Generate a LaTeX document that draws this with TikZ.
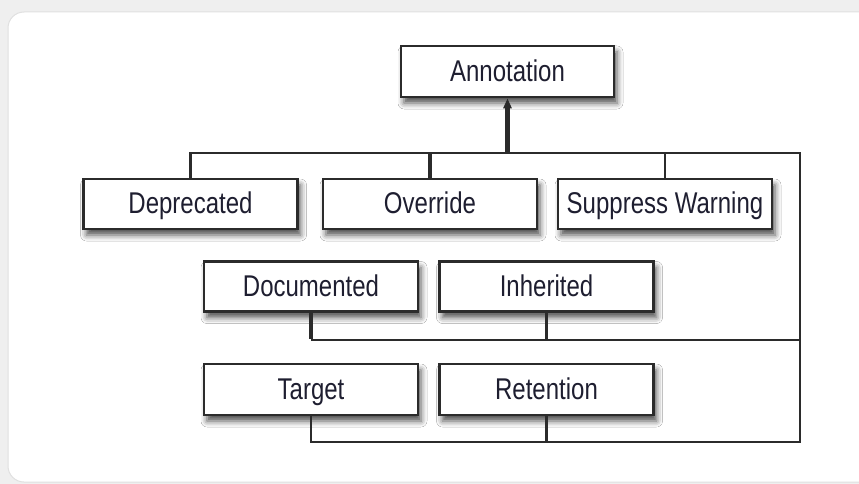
\documentclass[tikz,border=0pt]{standalone}
\usepackage{fontspec}
\setmainfont{Liberation Sans}[FakeStretch=0.8]
\usetikzlibrary{arrows.meta,shadows.blur}
\definecolor{framegray}{HTML}{EFEFEF}
\definecolor{linegray}{HTML}{2B2B2B}
\definecolor{inkblue}{HTML}{1E1E30}
\begin{document}
\begin{tikzpicture}[x=1pt,y=-1pt,
  classbox/.style={draw=linegray, line width=2.6pt, fill=white,
    minimum width=214pt, minimum height=50pt, inner sep=0pt,
    text=inkblue, font=\fontsize{30}{32}\selectfont,
    text height=21.5pt, text depth=2pt,
    blur shadow={shadow xshift=3pt, shadow yshift=-6pt,
      shadow blur radius=6pt, shadow opacity=70}},
  wire/.style={draw=linegray, line width=2.3pt},
  heavywire/.style={draw=linegray, line width=4.2pt},
]
\useasboundingbox (0,0) rectangle (859,484);
% page backdrop with rounded white panel
\fill[framegray] (0,0) rectangle (859,484);
\fill[white, draw=black!12, line width=1pt, rounded corners=16pt]
  (8,12) rectangle (880,482);

% classes
\node[classbox, minimum width=213pt, minimum height=51pt] (ann) at (507.5,71.5) {Annotation};
\node[classbox] (dep) at (190.5,204) {Deprecated};
\node[classbox] (ovr) at (430,204) {Override};
\node[classbox] (sup) at (665,204) {Suppress Warning};
\node[classbox] (doc) at (311,286.5) {Documented};
\node[classbox] (inh) at (546.5,286.5) {Inherited};
\node[classbox, minimum height=51pt] (tgt) at (311,389.5) {Target};
\node[classbox, minimum height=51pt] (ret) at (546.5,389.5) {Retention};

% bus corners on the right
\coordinate (tr) at (800,152.7);
\coordinate (mr) at (800,340);
\coordinate (br) at (800,442);

% connectors
\draw[wire] (dep.north) |- (tr) -- (br) -| (tgt.south);
\draw[wire] (ret.south) -- (ret.south |- br);
\draw[wire] (sup.north) -- (sup.north |- tr);
\draw[wire] (inh.south) -- (inh.south |- mr);
\draw[wire] (doc.south |- mr) -- (mr);
\draw[heavywire] (doc.south) -- ([yshift=1pt]doc.south |- mr);
\draw[heavywire] (ovr.north) -- ([yshift=-1pt]ovr.north |- tr);
\draw[heavywire, -{Triangle[length=10pt,width=8pt]}]
  ([yshift=1pt]ann.south |- tr) -- (ann.south);
\end{tikzpicture}
\end{document}
